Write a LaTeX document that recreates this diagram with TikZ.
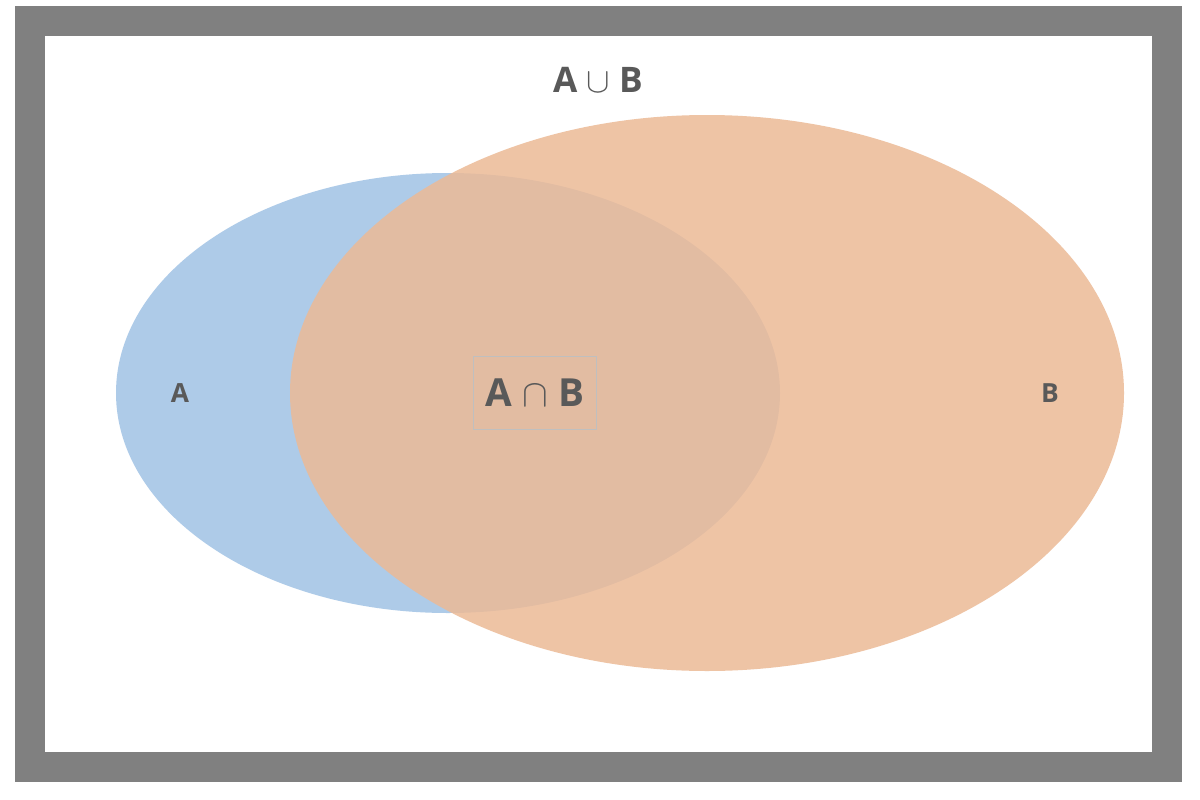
\documentclass[tikz,border=0pt]{standalone}
\usepackage{fontspec}
\setmainfont{Open Sans}
\usepackage{amssymb}
\definecolor{setA}{RGB}{174,203,232}
\definecolor{setB}{RGB}{236,186,150}
\definecolor{frame}{RGB}{128,128,128}
\definecolor{label}{RGB}{89,89,89}
\tikzset{
  setlabel/.style={text=label, font=\bfseries},
}
\begin{document}
\begin{tikzpicture}[x=0.01cm, y=-0.01cm]
\useasboundingbox (0,0) rectangle (1200,800);
\fill[white] (0,0) rectangle (1200,800);
% frame
\draw[frame, line width=0.30cm] (30,21) rectangle (1167,767);
% sets
\fill[setA] (448,393) ellipse [x radius=332, y radius=220];
\fill[setB, fill opacity=0.85] (707,393) ellipse [x radius=417, y radius=278];
% labels
\node[setlabel, font=\bfseries\fontsize{10}{12}\selectfont] (union) at (598,80) {A $\cup$ B};
\node[setlabel, font=\bfseries\fontsize{7.5}{9}\selectfont] (a) at (180,393) {A};
\node[setlabel, font=\bfseries\fontsize{7.5}{9}\selectfont] (b) at (1050,393) {B};
\node[setlabel, font=\bfseries\fontsize{11}{13}\selectfont, draw=black!25, line width=0.3pt,
  minimum width=1.23cm, minimum height=0.73cm] (inter) at (535,393) {A $\cap$ B};
\end{tikzpicture}
\end{document}
